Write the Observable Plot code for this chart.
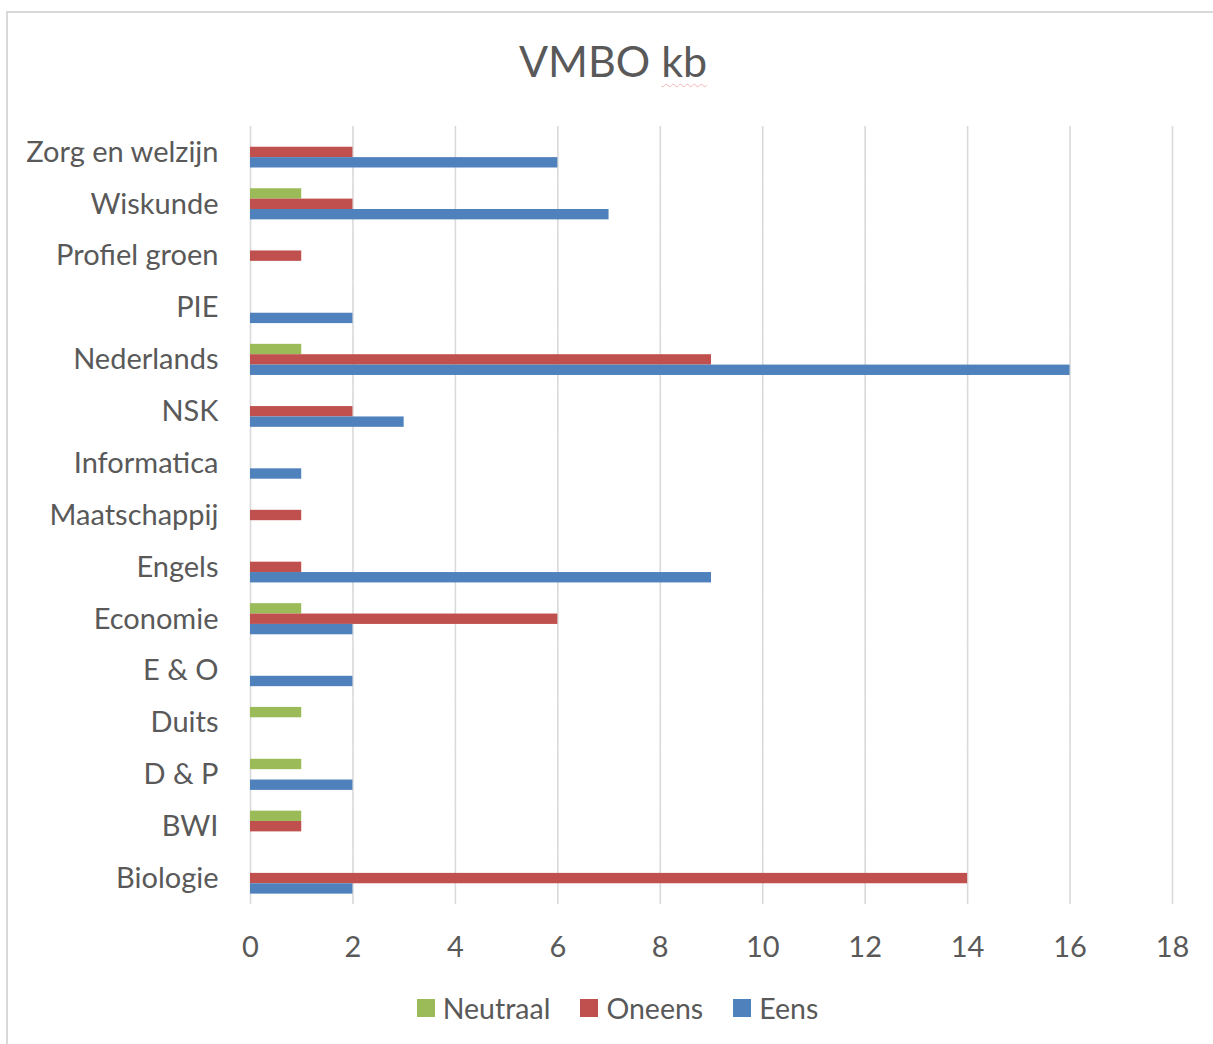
<!DOCTYPE html>
<html><head><meta charset="utf-8">
<script src="https://cdn.jsdelivr.net/npm/d3@7"></script>
<script src="https://cdn.jsdelivr.net/npm/@observablehq/plot@0.6"></script>
<style>
html,body{margin:0;padding:0;background:#fff;}
body{width:1213px;height:1044px;position:relative;overflow:hidden;font-family:Lato,"Open Sans",sans-serif;color:#595959;}
#frame{position:absolute;left:6px;top:11px;width:1220px;height:1040px;border-left:2px solid #d9d9d9;border-top:2px solid #d9d9d9;}
#title{position:absolute;left:0;width:1226px;top:35px;text-align:center;font-size:43px;line-height:52px;color:#595959;}
#title .sp{text-decoration:underline wavy #f3b3b3;text-decoration-thickness:1px;text-underline-offset:6px;}
#chart{position:absolute;left:0;top:100px;}
#legend{position:absolute;left:0;width:1235px;top:991px;display:flex;justify-content:center;align-items:center;font-size:28.5px;line-height:34px;color:#595959;}
#legend .item{display:flex;align-items:center;margin:0 15px;}
#legend .sw{width:18px;height:18px;margin-right:8px;}
</style>
</head><body>
<div id="frame"></div>
<div id="title">VMBO <span class="sp">kb</span></div>
<div id="chart"></div>
<div id="legend"></div>
<script>
const subjects = ["Zorg en welzijn","Wiskunde","Profiel groen","PIE","Nederlands","NSK","Informatica","Maatschappij","Engels","Economie","E & O","Duits","D & P","BWI","Biologie"];
const neutraal = [0,1,0,0,1,0,0,0,0,1,0,1,1,1,0];
const oneens   = [2,2,1,0,9,2,0,1,1,6,0,0,0,1,14];
const eens     = [6,7,0,2,16,3,1,0,9,2,2,0,2,0,2];
const seriesNames = ["Neutraal","Oneens","Eens"];
const seriesColors = ["#9bbb59","#c0504d","#4f81bd"];
const xTicks = [0,2,4,6,8,10,12,14,16,18];

const seriesValues = [neutraal, oneens, eens];
const data = subjects.flatMap((s, i) =>
  seriesNames.map((n, j) => ({subject: s, series: n, value: seriesValues[j][i]}))
).filter(d => d.value > 0);

const chart = Plot.plot({
  width: 1213,
  height: 870,
  marginLeft: 250,
  marginRight: 41,
  marginTop: 26,
  marginBottom: 66,
  style: {fontFamily: "Lato, 'Open Sans', sans-serif", fontSize: "29px", color: "#595959", background: "transparent", overflow: "visible"},
  x: {domain: [0, 18], ticks: xTicks, tickSize: 0, tickPadding: 32, label: null, grid: false},
  fy: {domain: subjects, padding: 0, round: false, label: null, tickSize: 0, tickPadding: 32, axis: "left"},
  y: {domain: seriesNames, paddingInner: 0, paddingOuter: 1, round: false, axis: null},
  color: {domain: seriesNames, range: seriesColors},
  facet: {data, y: "subject", marginRight: 0, marginLeft: 0, marginTop: 0, marginBottom: 0},
  marks: [
    Plot.ruleX(xTicks, {stroke: "#d9d9d9", strokeWidth: 1.6, strokeOpacity: 1}),
    Plot.barX(data, {x: "value", y: "series", fill: "series"})
  ]
});
document.getElementById("chart").appendChild(chart);

const legend = document.getElementById("legend");
seriesNames.forEach((n, i) => {
  const item = document.createElement("div");
  item.className = "item";
  const sw = document.createElement("div");
  sw.className = "sw";
  sw.style.background = seriesColors[i];
  const t = document.createElement("span");
  t.textContent = n;
  item.appendChild(sw); item.appendChild(t);
  legend.appendChild(item);
});
</script>
</body></html>
